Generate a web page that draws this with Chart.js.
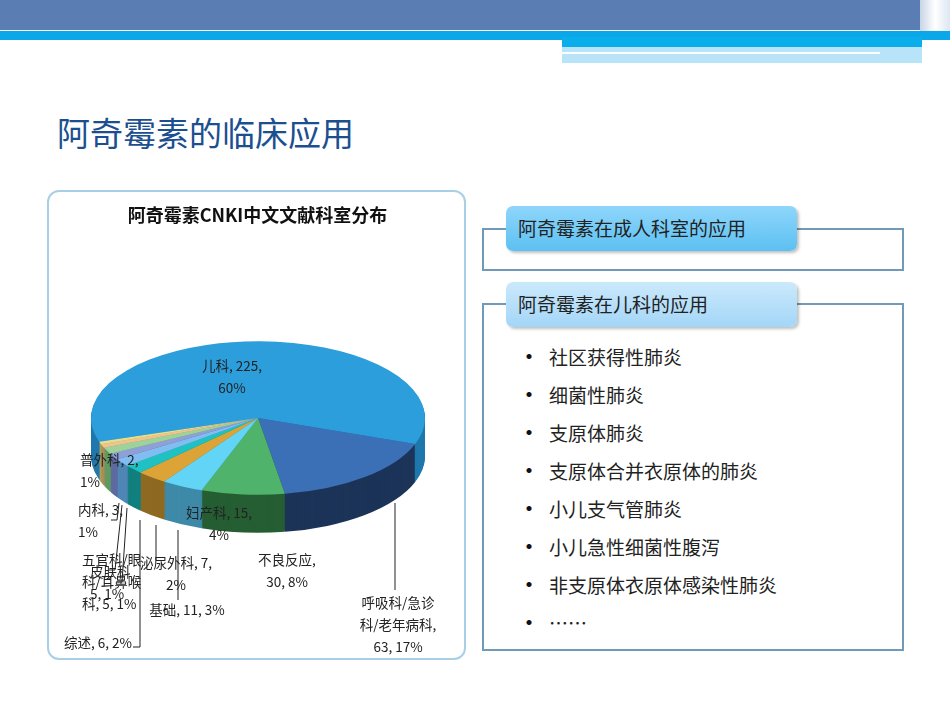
<!DOCTYPE html>
<html><head><meta charset="utf-8">
<script src="https://cdn.jsdelivr.net/npm/chart.js@4"></script>
<style>
body{margin:0;width:950px;height:713px;overflow:hidden;background:#fff;font-family:"Noto Sans CJK SC",sans-serif;position:relative}
.abs{position:absolute}
#ban1{left:0;top:0;width:920px;height:30px;background:#5a7db4}
#ban1b{left:920px;top:0;width:30px;height:40px;background:linear-gradient(90deg,#c8d4e6,#fff,#dde6f2)}
#ban2{left:0;top:31px;width:950px;height:9px;background:#0aa8e8}
#ban3{left:562px;top:37px;width:360px;height:10px;background:#0aaeea}
#ban4{left:562px;top:47px;width:360px;height:16px;background:#b8e4fa}
#ban5{left:562px;top:52px;width:318px;height:2px;background:#fff}
#title{left:57px;top:108px;font-size:33px;color:#1b4f8f}
#box{left:47px;top:190px;width:419px;height:470px;border:2px solid #a9cfe6;border-radius:12px;box-sizing:border-box}
.pan{border:2px solid #6f9bb8;box-sizing:border-box}
.tab{border-radius:7px;box-shadow:2px 2px 3px rgba(0,0,0,.25);font-size:19px;color:#222;padding-left:12px;box-sizing:border-box;line-height:44px}
ul{margin:0;padding:0;list-style:none}
li{font-size:19px;color:#222;height:38px;line-height:38px}
li:before{content:"•";margin-right:8px;font-size:24px;color:#111}
</style></head><body>
<div class="abs" id="ban1"></div><div class="abs" id="ban1b"></div><div class="abs" id="ban2"></div>
<div class="abs" id="ban3"></div><div class="abs" id="ban4"></div><div class="abs" id="ban5"></div>
<div class="abs" id="title">阿奇霉素的临床应用</div>
<div class="abs" id="box"></div>
<canvas class="abs" id="c" style="left:47px;top:190px;width:421px;height:472px"></canvas>
<div class="abs pan" style="left:482px;top:228px;width:422px;height:43px"></div>
<div class="abs tab" style="left:506px;top:206px;width:291px;height:45px;background:linear-gradient(#8fd6fb,#5cc0f2)">阿奇霉素在成人科室的应用</div>
<div class="abs pan" style="left:482px;top:303px;width:422px;height:348px"></div>
<div class="abs tab" style="left:506px;top:282px;width:291px;height:45px;background:linear-gradient(#cbe9fc,#a3d6f7)">阿奇霉素在儿科的应用</div>
<ul class="abs" style="left:517px;top:336px">
<li>社区获得性肺炎</li><li>细菌性肺炎</li><li>支原体肺炎</li><li>支原体合并衣原体的肺炎</li><li>小儿支气管肺炎</li><li>小儿急性细菌性腹泻</li><li>非支原体衣原体感染性肺炎</li><li>……</li>
</ul>
<script>
const categories=["儿科","呼吸科/急诊科/老年病科","不良反应","妇产科","基础","泌尿外科","综述","皮肤科","五官科/眼科/耳鼻喉科","内科","普外科"];
const values=[225,63,30,15,11,7,6,5,5,3,2];
const chartTitle="阿奇霉素CNKI中文文献科室分布";
const topColors=["#2b9edb","#3b6fb6","#4fb36b","#62d4f6","#dca437","#1fc2c2","#80bdf0","#8fa0d8","#9dd29b","#efc48c","#e6df8e"];
const sideColors=["#1f78ad","#1c3458","#265e33","#3e8aa8","#8f6a22","#127f7f","#4f86b6","#5c6aa0","#5f9a5e","#b08a5a","#a9a258"];
const K=0.46, DEPTH=38, CX=211, CY=228;
const labelLayout=[
 {x:185,y:176,split:[8]},
 {x:351,y:413,split:[6,13],lead:[[348,313],[348,400]]},
 {x:240,y:370,split:[5]},
 {x:172,y:323,split:[8]},
 {x:140,y:420,split:[],lead:[[131,340],[131,410]]},
 {x:129,y:373,split:[8],lead:[[109,335],[109,370]]},
 {x:0,y:453,split:[],lead:[[93,330],[93,457],[86,457]]},
 {x:43,y:382,split:[3],lead:[[80,318],[75,392],[70,392]]},
 {x:35,y:370,split:[5,10],lead:[[75,315],[68,380],[62,380]]},
 {x:31,y:320,split:[6],lead:[[72,313],[70,330],[64,330]]},
 {x:33,y:270,split:[7]}
];
const total=values.reduce((a,b)=>a+b,0);
function tf(ctx,meta){const a=meta.data[0];ctx.translate(CX,CY);ctx.scale(1,K);ctx.translate(-a.x,-a.y);}
const pie3d={id:'pie3d',
 beforeDatasetsDraw(chart){const ctx=chart.ctx,meta=chart.getDatasetMeta(0);
  for(let d=DEPTH;d>0;d--){ctx.save();ctx.translate(0,d);tf(ctx,meta);
   meta.data.forEach((a,i)=>{ctx.beginPath();ctx.moveTo(a.x,a.y);ctx.arc(a.x,a.y,a.outerRadius,a.startAngle,a.endAngle);ctx.closePath();ctx.fillStyle=sideColors[i];ctx.fill();});
   ctx.restore();}
  ctx.save();tf(ctx,meta);},
 afterDatasetsDraw(chart){chart.ctx.restore();},
 afterDraw(chart){const ctx=chart.ctx;ctx.save();ctx.font='13.5px "Noto Sans CJK SC"';ctx.fillStyle='#222';ctx.strokeStyle='#222';ctx.lineWidth=1;ctx.textBaseline='middle';
  values.forEach((v,i)=>{const L=labelLayout[i];const txt=categories[i]+", "+v+", "+Math.round(v/total*100)+"%";
   const parts=[];let p=0;L.split.forEach(s=>{parts.push(txt.slice(p,s));p=s;});parts.push(txt.slice(p).replace(/^,\s*/,'').trim());
   const center=(i<=5);ctx.textAlign=center?'center':'left';
   parts.forEach((s,j)=>{let x=L.x;if(i===6){x=85-ctx.measureText(s).width;}ctx.fillText(s,x,L.y+j*22);});
   if(L.lead){ctx.beginPath();L.lead.forEach((q,j)=>j?ctx.lineTo(q[0],q[1]):ctx.moveTo(q[0],q[1]));ctx.stroke();}
  });ctx.restore();}
};
new Chart(document.getElementById('c'),{type:'pie',
 data:{labels:categories,datasets:[{data:values,backgroundColor:topColors,borderWidth:0}]},
 options:{responsive:false,animation:false,rotation:-108,radius:167,
  plugins:{legend:{display:false},tooltip:{enabled:false},
   title:{display:true,text:chartTitle,font:{size:18,weight:'bold',family:'"Noto Sans CJK SC"'},color:'#111',padding:{top:14,bottom:10}}}},
 plugins:[pie3d]});
</script>
</body></html>
